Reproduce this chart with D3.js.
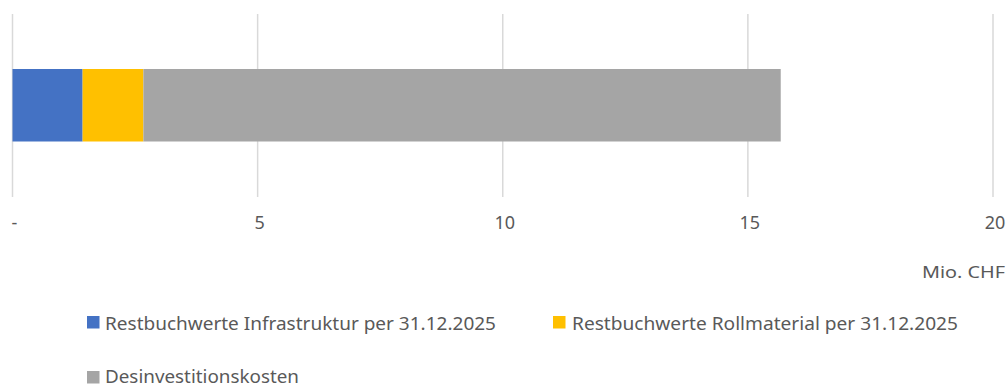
<!DOCTYPE html>
<html>
<head>
<meta charset="utf-8">
<script src="https://cdn.jsdelivr.net/npm/d3@7"></script>
<style>
  html, body { margin: 0; padding: 0; background: #fff; }
  svg { display: block; }
  text { font-family: "Noto Sans", "Open Sans", sans-serif; fill: #595959; }
</style>
</head>
<body>
<svg id="chart" width="1007" height="387"></svg>
<script>
// Cost components (Mio. CHF), stacked in a single horizontal bar
const seriesNames = [
  "Restbuchwerte Infrastruktur per 31.12.2025",
  "Restbuchwerte Rollmaterial per 31.12.2025",
  "Desinvestitionskosten"
];
const seriesValues = [1.43, 1.24, 13.0];
const seriesColors = ["#4472C4", "#FFC000", "#A5A5A5"];
const tickValues = [0, 5, 10, 15, 20];
const tickLabels = ["-", "5", "10", "15", "20"];
const unitLabel = "Mio. CHF";

const svg = d3.select("#chart");

const x = d3.scaleLinear().domain([0, 20]).range([12.5, 993]);

// vertical gridlines
svg.append("g")
  .selectAll("line")
  .data(tickValues)
  .join("line")
  .attr("x1", d => x(d)).attr("x2", d => x(d))
  .attr("y1", 14).attr("y2", 197)
  .attr("stroke", "#D9D9D9")
  .attr("stroke-width", 1.5);

// stacked segments
const stackData = [Object.fromEntries(seriesNames.map((n, i) => [n, seriesValues[i]]))];
const stacked = d3.stack().keys(seriesNames)(stackData);

svg.append("g")
  .selectAll("rect")
  .data(stacked)
  .join("rect")
  .attr("x", d => x(d[0][0]))
  .attr("width", d => x(d[0][1]) - x(d[0][0]))
  .attr("y", 69)
  .attr("height", 72.5)
  .attr("fill", (d, i) => seriesColors[i]);

// tick labels
const axis = d3.axisBottom(x)
  .tickValues(tickValues)
  .tickFormat((d, i) => tickLabels[i])
  .tickSize(0)
  .tickPadding(0);
const axisG = svg.append("g").attr("transform", "translate(1.5,216)").call(axis);
axisG.select(".domain").remove();
axisG.selectAll("text")
  .style("font-family", "\"Noto Sans\", sans-serif")
  .style("font-size", "18px")
  .attr("fill", "#595959");

// unit label
svg.append("text")
  .attr("x", 1005).attr("y", 278)
  .attr("text-anchor", "end")
  .style("font-size", "17px")
  .attr("textLength", 83)
  .attr("lengthAdjust", "spacingAndGlyphs")
  .text(unitLabel);

// legend
const legendPos = [
  { sx: 87, sy: 316, tx: 105, ty: 330, w: 391 },
  { sx: 553, sy: 316, tx: 572, ty: 330, w: 386 },
  { sx: 87, sy: 371, tx: 105, ty: 383, w: 194 }
];
const legend = svg.append("g")
  .selectAll("g")
  .data(seriesNames)
  .join("g");
legend.append("rect")
  .attr("x", (d, i) => legendPos[i].sx)
  .attr("y", (d, i) => legendPos[i].sy)
  .attr("width", 12.5).attr("height", 12.5)
  .attr("fill", (d, i) => seriesColors[i]);
legend.append("text")
  .attr("x", (d, i) => legendPos[i].tx)
  .attr("y", (d, i) => legendPos[i].ty)
  .style("font-size", "18px")
  .attr("textLength", (d, i) => legendPos[i].w)
  .attr("lengthAdjust", "spacingAndGlyphs")
  .text(d => d);
</script>
</body>
</html>
